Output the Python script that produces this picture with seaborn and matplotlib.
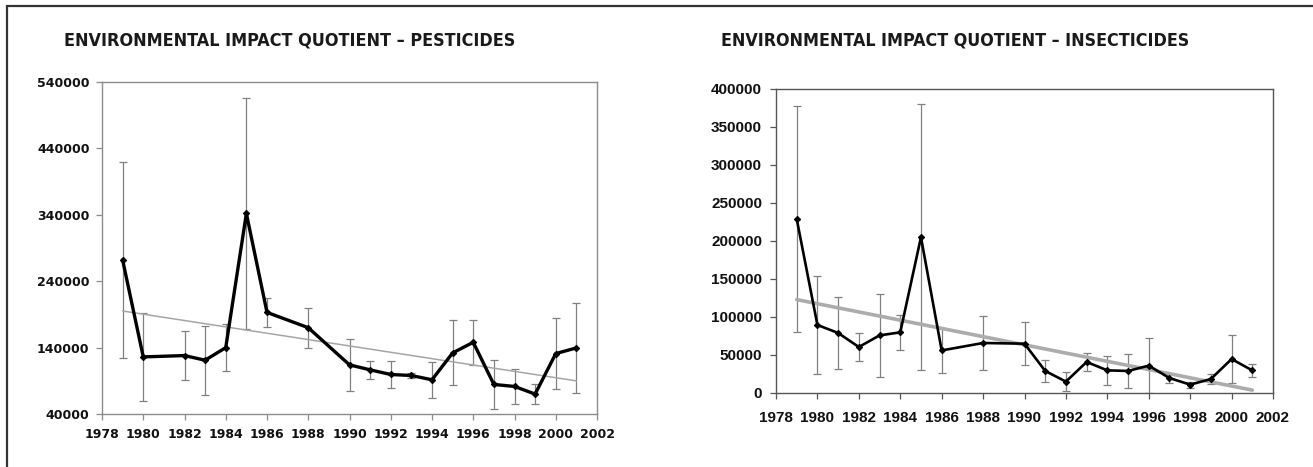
import numpy as np
import matplotlib
matplotlib.use("Agg")
import matplotlib.pyplot as plt
import seaborn as sns
from matplotlib.patches import Rectangle
from matplotlib import font_manager

# ---- data ----
pest_years = [1979, 1980, 1982, 1983, 1984, 1985, 1986, 1988, 1990, 1991,
              1992, 1993, 1994, 1995, 1996, 1997, 1998, 1999, 2000, 2001]
pest_eiq = [272000, 126000, 128000, 121000, 140000, 342000, 193000, 170000,
            114000, 106500, 99500, 98000, 91500, 132000, 148000, 84500,
            81500, 70000, 131000, 139500]
pest_err = [147000, 66000, 37000, 52000, 35000, 174000, 22000, 30000,
            39000, 14000, 21000, 4000, 27000, 49000, 33500, 37500,
            27000, 15500, 54000, 68000]

ins_years = [1979, 1980, 1981, 1982, 1983, 1984, 1985, 1986, 1988, 1990,
             1991, 1992, 1993, 1994, 1995, 1996, 1997, 1998, 1999, 2000, 2001]
ins_eiq = [229000, 89500, 79000, 60500, 75800, 79800, 205000, 56000, 65800,
           64900, 29000, 15000, 40800, 29800, 29000, 36000, 19700, 11000,
           18400, 44700, 29700]
ins_err = [149000, 65000, 47000, 19000, 55000, 23000, 175000, 30000, 35000,
           28500, 14000, 12000, 12000, 19000, 22500, 36000, 6500, 4000,
           6500, 31500, 8000]

year_ticks = list(range(1978, 2003, 2))
pest_yticks = list(range(40000, 540001, 100000))
ins_yticks = list(range(0, 400001, 50000))

titles = ["ENVIRONMENTAL IMPACT QUOTIENT \u2013 PESTICIDES",
          "ENVIRONMENTAL IMPACT QUOTIENT \u2013 INSECTICIDES"]

sns.set_style("white")
plt.rcParams["font.family"] = ["DejaVu Sans"]

W, H = 1313, 467
fig = plt.figure(figsize=(W / 100, H / 100), dpi=100)


def px_axes(x0, y0, x1, y1):
    return fig.add_axes([x0 / W, 1 - y1 / H, (x1 - x0) / W, (y1 - y0) / H])


def narrow_bold_font():
    # prefer a condensed bold face if one is installed
    for fam in ["Liberation Sans Narrow", "DejaVu Sans"]:
        fp = font_manager.FontProperties(family=fam, weight="bold",
                                         stretch="condensed")
        try:
            path = font_manager.findfont(fp, fallback_to_default=False)
        except ValueError:
            continue
        if "Narrow" in path or "Condensed" in path:
            return font_manager.FontProperties(fname=path)
    return font_manager.FontProperties(family="Liberation Sans", weight="bold")


def draw_panel(ax, years, vals, errs, trend_kw, line_w, spine_col):
    ax.errorbar(years, vals, yerr=errs, fmt="none", ecolor="#808080",
                elinewidth=0.9, capsize=2.6, capthick=0.9, zorder=2)
    sns.regplot(x=np.array(years), y=np.array(vals), ax=ax, scatter=False,
                ci=None, truncate=True, line_kws=trend_kw)
    sns.lineplot(x=years, y=vals, ax=ax, color="black", lw=line_w,
                 marker="D", markersize=3.2, markeredgecolor="black",
                 errorbar=None, zorder=4)
    for s in ax.spines.values():
        s.set_visible(True)
        s.set_color(spine_col)
        s.set_linewidth(1.0)
    ax.set_xlim(1978, 2002)
    ax.set_xticks(year_ticks)
    ax.set_xlabel("")
    ax.set_ylabel("")
    ax.tick_params(axis="both", direction="out", length=4, width=0.9,
                   color=spine_col, bottom=True, left=True)


# left panel: pesticides
ax1 = px_axes(102, 82, 597, 414)
draw_panel(ax1, pest_years, pest_eiq, pest_err,
           dict(color="#a6a6a6", lw=1.1, zorder=3), 2.4, "#8c8c8c")
ax1.set_ylim(40000, 540000)
ax1.set_yticks(pest_yticks)
ax1.set_yticklabels([str(v) for v in pest_yticks])
ax1.set_xticklabels([str(v) for v in year_ticks])
ax1.tick_params(axis="x", pad=6)
ax1.tick_params(axis="y", pad=5)
for lab in ax1.get_xticklabels() + ax1.get_yticklabels():
    lab.set_fontweight("bold")
    lab.set_fontsize(9)
    lab.set_color("#111111")

# right panel: insecticides
ax2 = px_axes(776, 89, 1273, 393)
draw_panel(ax2, ins_years, ins_eiq, ins_err,
           dict(color="#acacac", lw=2.6, zorder=3), 1.9, "#555555")
ax2.set_ylim(0, 400000)
ax2.set_yticks(ins_yticks)
ax2.set_yticklabels([str(v) for v in ins_yticks])
ax2.set_xticklabels([str(v) for v in year_ticks])
ax2.tick_params(axis="x", pad=9)
ax2.tick_params(axis="y", pad=6)
for lab in ax2.get_xticklabels() + ax2.get_yticklabels():
    lab.set_family(["Liberation Sans", "DejaVu Sans"])
    lab.set_fontweight("bold")
    lab.set_fontsize(11)
    lab.set_color("#111111")

# titles, sized so that they span about the same width as in the reference
tfont = narrow_bold_font()
renderer = fig.canvas.get_renderer()
for txt, x0, target_w in [(titles[0], 64, 450), (titles[1], 721, 466)]:
    t = fig.text(x0 / W, 1 - 40 / H, txt, ha="left", va="center",
                 fontproperties=tfont, fontsize=13, color="#1a1a1a")
    w = t.get_window_extent(renderer).width
    t.set_fontsize(13 * target_w / w)

# outer frame (only top and left edges fall inside the picture)
fig.patches.append(Rectangle((7 / W, -0.05), 1.1, 1 - 6 / H + 0.05,
                             transform=fig.transFigure, fill=False,
                             edgecolor="#333333", lw=1.6))

fig.savefig("out.png", dpi=100)
